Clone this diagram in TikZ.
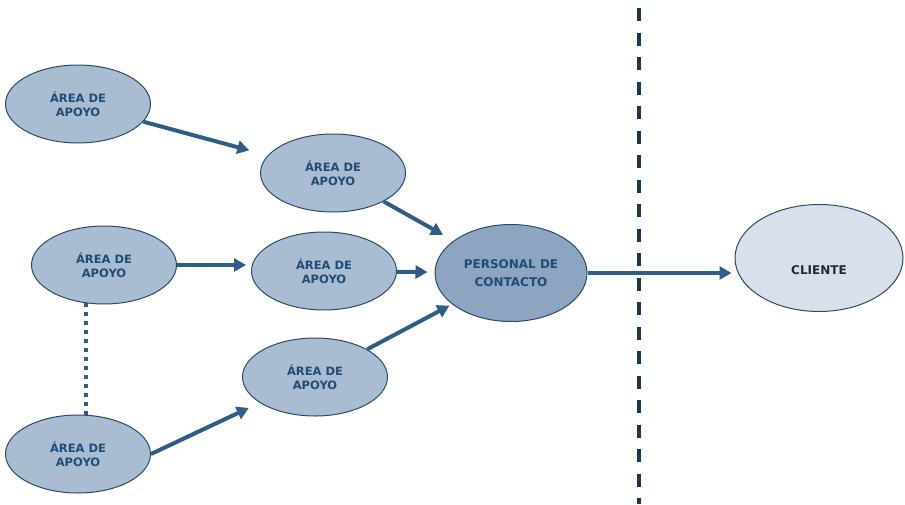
\documentclass[tikz,border=0pt]{standalone}
\usepackage{fontspec}
\setmainfont{DejaVu Sans}
\usetikzlibrary{shapes.geometric}
\usetikzlibrary{arrows.meta}
\usetikzlibrary{positioning}

\definecolor{areafill}{HTML}{A9BCD2}
\definecolor{pcfill}{HTML}{8DA5C1}
\definecolor{clfill}{HTML}{D7E0EB}
\definecolor{rim}{HTML}{2C4A66}
\definecolor{ink}{HTML}{1F4D77}
\definecolor{darkink}{HTML}{1A2B40}
\definecolor{flow}{HTML}{2E5E88}
\definecolor{wall}{HTML}{1C3550}

\begin{document}
\begin{tikzpicture}[x=1pt, y=-1pt, on grid, inner sep=0pt,
  area/.style={ellipse, draw=rim, line width=1pt, fill=areafill, text=ink,
    minimum width=145pt, minimum height=78pt, align=center,
    font=\fontsize{11.5}{14}\selectfont\bfseries},
  staff/.style={area, fill=pcfill, minimum width=152pt, minimum height=97pt,
    font=\fontsize{12}{18}\selectfont\bfseries},
  client/.style={area, fill=clfill, minimum width=168pt, minimum height=107pt},
  arr/.style={-{Triangle[length=12pt,width=13pt]}, line width=4pt, color=flow},
  link/.style={draw=flow, line width=4pt, dash pattern=on 4pt off 5pt},
  border/.style={draw=wall, line width=3.5pt, dash pattern=on 13pt off 11.5pt}]

\useasboundingbox (0,0) rectangle (905,504);

\node [area] (a_1) at (78,104) {ÁREA DE\\APOYO};
\node [area] (a_2) [below right=69pt and 255pt of a_1] {ÁREA DE\\APOYO};
\node [area] (a_3) [below right=161pt and 26pt of a_1] {ÁREA DE\\APOYO};
\node [area] (a_4) [below right=6pt and 220pt of a_3] {ÁREA DE\\APOYO};
\node [area] (a_5) [below right=112pt and 211pt of a_3] {ÁREA DE\\APOYO};
\node [area] (a_6) [below left=189pt and 26pt of a_3] {ÁREA DE\\APOYO};
\node [staff] (pc) [below right=2pt and 187pt of a_4] {PERSONAL DE\\CONTACTO};
\node [client, label={[yshift=-12pt, text=darkink, font=\fontsize{12}{16}\selectfont\bfseries]center:CLIENTE}] (cl) [above right=15pt and 308pt of pc] {};

\coordinate (top) at (639,8);
\coordinate (bottom) at (639,504);
\draw [border] (top) -- (bottom);

\path [link] (a_3.245) -- (a_3.245 |- a_6.north);

\path [arr]
      (a_1) edge [shorten >=19pt] (a_2)
      (a_2) edge [shorten >=12pt] (pc)
      (a_3) edge [shorten >=5pt] (a_3 -| a_4.west)
      (a_4) edge [shorten >=7pt] (pc)
      (a_5) edge [shorten >=3pt] (pc)
      (a_6.east) edge [shorten >=12pt] (a_5.205)
      (pc) edge [shorten >=3pt] (pc -| cl.west)
      ;

\end{tikzpicture}
\end{document}
